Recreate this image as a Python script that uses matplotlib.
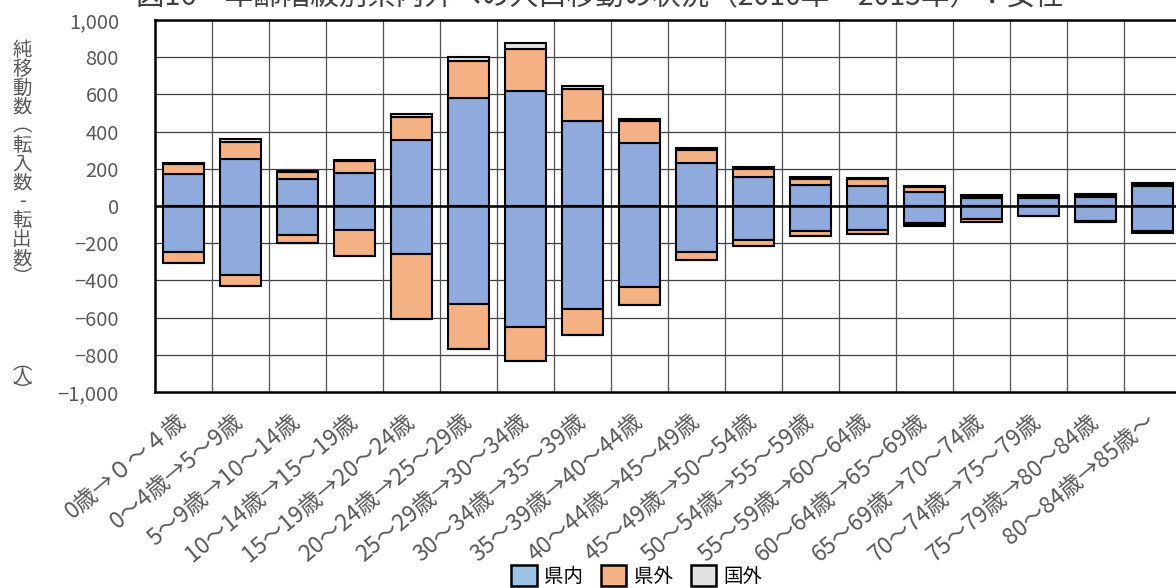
import matplotlib
matplotlib.use("Agg")
import matplotlib.pyplot as plt
import matplotlib.patches as mpatches
from matplotlib.ticker import FuncFormatter
import numpy as np

plt.rcParams['font.family'] = ['Noto Sans CJK JP', 'DejaVu Sans']

title = "図16　年齢階級別県内外への人口移動の状況（2010年～2015年）：女性"

age_labels = ["0歳→０～４歳", "0～4歳→5～9歳", "5～9歳→10～14歳", "10～14歳→15～19歳",
              "15～19歳→20～24歳", "20～24歳→25～29歳", "25～29歳→30～34歳",
              "30～34歳→35～39歳", "35～39歳→40～44歳", "40～44歳→45～49歳",
              "45～49歳→50～54歳", "50～54歳→55～59歳", "55～59歳→60～64歳",
              "60～64歳→65～69歳", "65～69歳→70～74歳", "70～74歳→75～79歳",
              "75～79歳→80～84歳", "80～84歳→85歳～"]

# 転入 (positive)
in_pref = [170, 253, 147, 179, 356, 579, 620, 457, 340, 233, 158, 113, 109, 77, 42, 44, 50, 110]
in_other = [56, 93, 37, 64, 121, 201, 224, 170, 117, 68, 41, 32, 34, 23, 10, 8, 5, 8]
in_abroad = [5, 12, 5, 4, 19, 21, 31, 18, 12, 9, 9, 9, 7, 5, 8, 7, 8, 7]
# 転出 (negative)
out_pref = [-247, -371, -156, -129, -260, -529, -649, -554, -434, -246, -183, -134, -129, -93, -72, -52, -80, -133]
out_other = [-58, -59, -45, -138, -349, -240, -184, -140, -98, -44, -32, -26, -23, -10, -12, -3, -5, -7]
out_abroad = [0, 0, 0, 0, 0, 0, 0, 0, 0, 0, 0, 0, 0, -3, -3, 0, -3, -3]

c_pref = "#8FAADC"
c_other = "#F4B183"
c_abroad = "#E2E2E2"
grey_txt = "#595959"

fig = plt.figure(figsize=(11.76, 5.88), dpi=100)
ax = fig.add_axes([155 / 1176, (588 - 392) / 588, (1181 - 155) / 1176, 372 / 588])

x = np.arange(len(age_labels))
w = 0.71
kw = dict(width=w, edgecolor="black", linewidth=1.5, zorder=3)

ax.bar(x, in_pref, color=c_pref, **kw)
ax.bar(x, in_other, bottom=in_pref, color=c_other, **kw)
ax.bar(x, in_abroad, bottom=np.add(in_pref, in_other), color=c_abroad, **kw)
ax.bar(x, out_pref, color=c_pref, **kw)
ax.bar(x, out_other, bottom=out_pref, color=c_other, **kw)
ax.bar(x, out_abroad, bottom=np.add(out_pref, out_other), color=c_abroad, **kw)

ax.set_xlim(-0.5, len(age_labels) - 0.5)
ax.set_ylim(-1000, 1000)
ax.set_yticks(np.arange(-1000, 1001, 200))
ax.yaxis.set_major_formatter(FuncFormatter(lambda v, p: ("−" if v < 0 else "") + f"{abs(int(v)):,}"))

# grid: horizontal at ticks, vertical at category boundaries
for yv in np.arange(-800, 1000, 200):
    ax.axhline(yv, color="#404040", lw=0.9, zorder=1)
for xv in np.arange(0.5, len(age_labels) - 0.5, 1):
    ax.axvline(xv, color="#505050", lw=0.9, zorder=1)
ax.axhline(0, color="black", lw=1.8, zorder=4)

for s in ax.spines.values():
    s.set_linewidth(1.8)
    s.set_color("black")
ax.tick_params(axis="y", length=0, labelsize=14.5, colors=grey_txt, pad=26)
ax.set_xticks(x)
ax.set_xticklabels(age_labels, rotation=40, ha="right", va="center",
                   rotation_mode="anchor", fontsize=16.5, color=grey_txt)
ax.tick_params(axis="x", length=0, pad=19)

# vertical y-axis label
fig.text(22 / 1176, 1 - 40 / 588, "純\n移\n動\n数\n︵\n転\n入\n数\n-\n転\n出\n数\n︶",
         ha="center", va="top", fontsize=14, color=grey_txt, linespacing=0.87)
fig.text(22 / 1176, 1 - 378 / 588, "︵\n人\n︶", ha="center", va="center", fontsize=14,
         color=grey_txt, linespacing=0.55)

fig.text(600 / 1176, 1 + 3 / 588, title, ha="center", va="center", fontsize=20.5, color="#404040")

handles = [mpatches.Patch(facecolor="#9DC3E6", edgecolor="black", lw=1.8, label="県内"),
           mpatches.Patch(facecolor=c_other, edgecolor="black", lw=1.8, label="県外"),
           mpatches.Patch(facecolor=c_abroad, edgecolor="black", lw=1.8, label="国外")]
fig.legend(handles=handles, loc="center", bbox_to_anchor=(637 / 1176, 12 / 588), ncol=3,
           frameon=False, fontsize=14, handlelength=1.3, handleheight=1.3,
           handletextpad=0.4, columnspacing=0.9)

fig.savefig("out.png", dpi=100)
